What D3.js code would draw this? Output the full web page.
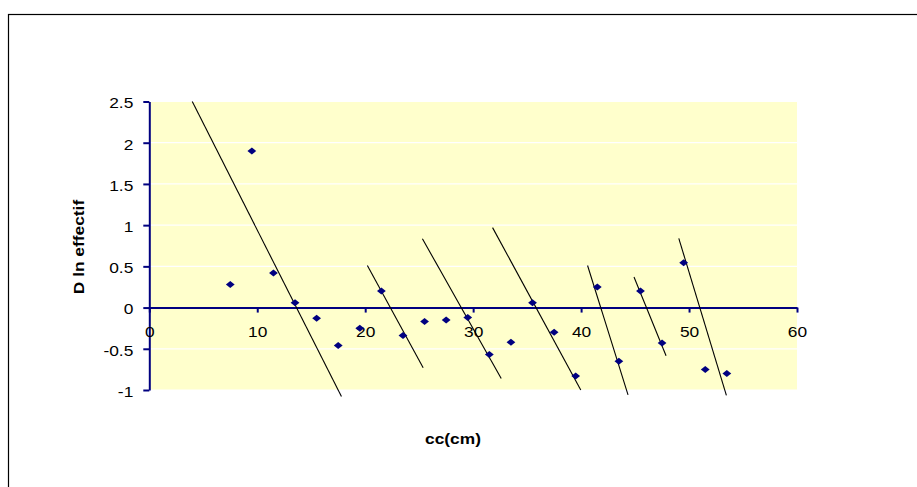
<!DOCTYPE html>
<html>
<head>
<meta charset="utf-8">
<script src="https://cdn.jsdelivr.net/npm/d3@7"></script>
<style>
  html, body { margin: 0; padding: 0; background: #fff; }
  svg { display: block; }
  text { font-family: "Liberation Sans", Arial, sans-serif; }
</style>
</head>
<body>
<svg id="chart" width="917" height="487"></svg>
<script>
// ---- data ----
const ccValues = [7.5, 9.5, 11.5, 13.5, 15.5, 17.5, 19.5, 21.5, 23.5, 25.5, 27.5, 29.5,
                  31.5, 33.5, 35.5, 37.5, 39.5, 41.5, 43.5, 45.5, 47.5, 49.5, 51.5, 53.5];
const dlnValues = [0.28, 1.9, 0.42, 0.06, -0.13, -0.46, -0.25, 0.2, -0.34, -0.17, -0.15, -0.12,
                   -0.57, -0.42, 0.06, -0.30, -0.83, 0.25, -0.65, 0.2, -0.43, 0.545, -0.75, -0.80];
// hand-drawn trend segments (start / end in data units)
const segX1 = [3.98, 20.2, 25.3, 31.8, 40.6, 44.9, 49.05];
const segY1 = [2.5, 0.51, 0.835, 0.97, 0.51, 0.37, 0.84];
const segX2 = [17.8, 25.37, 32.6, 39.97, 44.35, 47.87, 53.46];
const segY2 = [-1.08, -0.73, -0.86, -1.0, -1.06, -0.585, -1.065];
const xTicks = [0, 10, 20, 30, 40, 50, 60];
const yTicks = [-1, -0.5, 0, 0.5, 1, 1.5, 2, 2.5];
const xTitle = "cc(cm)";
const yTitle = "D ln effectif";

// ---- drawing ----
const svg = d3.select("#chart");
const x = d3.scaleLinear().domain([0, 60]).range([149.3, 797]);
const y = d3.scaleLinear().domain([-1, 2.5]).range([390, 101.5]);
const navy = "#000080";
const stretch = 1.24;   // text in the reference is widened horizontally
const fmt = d => String(d);

// outer frame
svg.append("rect")
  .attr("x", 8.5).attr("y", 14.5).attr("width", 1000).attr("height", 1000)
  .attr("fill", "none").attr("stroke", "#000").attr("stroke-width", 1.2);

// plot area
svg.append("rect")
  .attr("x", x(0)).attr("y", y(2.5))
  .attr("width", x(60) - x(0)).attr("height", y(-1) - y(2.5))
  .attr("fill", "#FFFFCC");

// gridlines
svg.append("g").selectAll("line").data(yTicks).join("line")
  .attr("x1", x(0)).attr("x2", x(60))
  .attr("y1", d => y(d)).attr("y2", d => y(d))
  .attr("stroke", "#fff").attr("stroke-width", 1.2);

// y axis
const yAxis = svg.append("g")
  .attr("transform", `translate(${x(0)},0)`)
  .call(d3.axisLeft(y).tickValues(yTicks).tickSize(6).tickSizeOuter(0).tickFormat(fmt));
yAxis.select(".domain").attr("stroke", navy).attr("stroke-width", 2);
yAxis.selectAll(".tick line").attr("stroke", navy).attr("stroke-width", 2);
yAxis.selectAll("text")
  .attr("x", 0).attr("y", 0).attr("dy", "0.45em")
  .attr("transform", `translate(-16,0) scale(${stretch},1)`)
  .attr("font-size", 14).attr("fill", "#000")
  .attr("font-family", "Liberation Sans, Arial, sans-serif");

// x axis at y = 0
const xAxis = svg.append("g")
  .attr("transform", `translate(0,${y(0)})`)
  .call(d3.axisBottom(x).tickValues(xTicks).tickSize(5).tickSizeOuter(0).tickFormat(fmt));
xAxis.select(".domain").attr("stroke", navy).attr("stroke-width", 2);
xAxis.selectAll(".tick line").attr("stroke", navy).attr("stroke-width", 2);
xAxis.selectAll("text")
  .attr("x", 0).attr("y", 0).attr("dy", 0)
  .attr("transform", `translate(0,29.5) scale(${stretch},1)`)
  .attr("font-size", 14).attr("fill", "#000")
  .attr("font-family", "Liberation Sans, Arial, sans-serif");

// trend segments
svg.append("g").selectAll("line").data(segX1.map((d, i) => i)).join("line")
  .attr("x1", i => x(segX1[i])).attr("y1", i => y(segY1[i]))
  .attr("x2", i => x(segX2[i])).attr("y2", i => y(segY2[i]))
  .attr("stroke", "#000").attr("stroke-width", 1.1);

// points (diamonds)
svg.append("g").selectAll("path").data(ccValues.map((d, i) => i)).join("path")
  .attr("transform", i => `translate(${x(ccValues[i])},${y(dlnValues[i])})`)
  .attr("d", "M0,-3.5L4.4,0L0,3.5L-4.4,0Z")
  .attr("fill", navy);

// axis titles
svg.append("text")
  .attr("transform", `translate(453,443.5) scale(${stretch},1)`)
  .attr("text-anchor", "middle").attr("font-size", 14).attr("font-weight", "bold")
  .text(xTitle);
svg.append("text")
  .attr("transform", `translate(83.5,247) rotate(-90) scale(${stretch},1)`)
  .attr("text-anchor", "middle").attr("font-size", 14).attr("font-weight", "bold")
  .text(yTitle);
</script>
</body>
</html>
